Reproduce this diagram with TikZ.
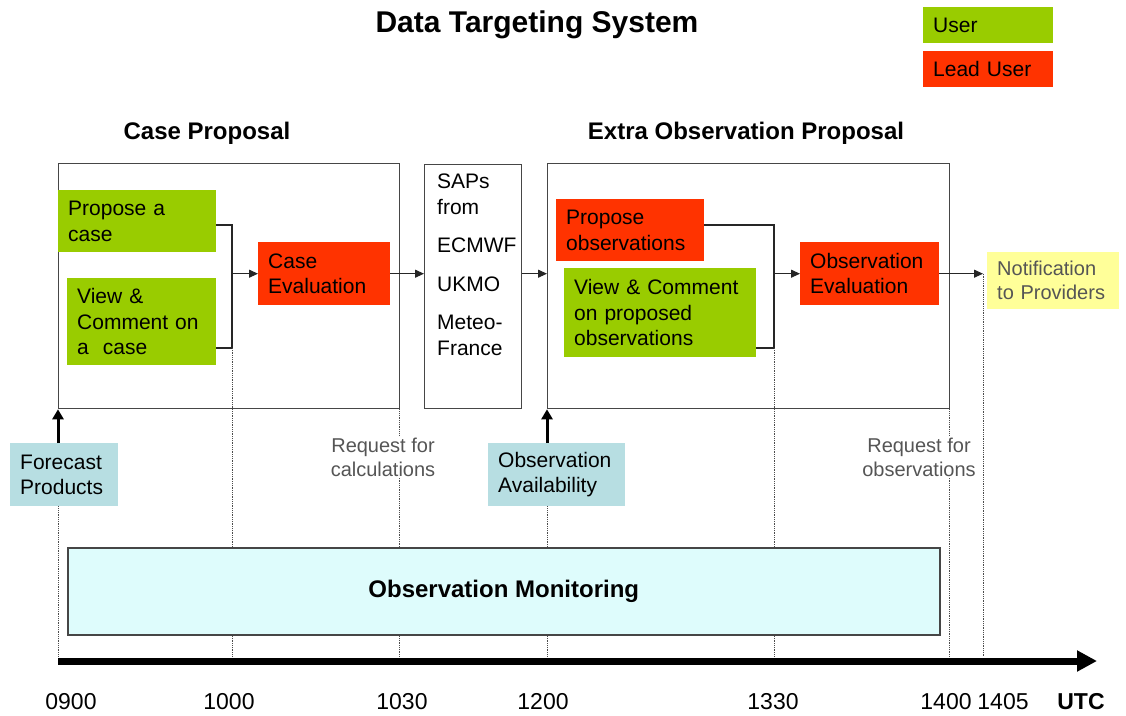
\documentclass[tikz,border=0pt]{standalone}
\usepackage{fontspec}
\setmainfont{Liberation Sans}
\usepackage{xcolor}
\definecolor{dtgreen}{RGB}{153,204,0}
\definecolor{dtred}{RGB}{255,51,0}
\definecolor{dtcyan}{RGB}{183,222,226}
\definecolor{dtyellow}{RGB}{255,255,153}
\definecolor{dtmonitor}{RGB}{222,252,252}
\definecolor{dtframe}{RGB}{70,70,70}
\definecolor{dtgray}{RGB}{85,85,85}
\usetikzlibrary{arrows.meta, positioning, calc}

\begin{document}
\begin{tikzpicture}[x=1pt, y=-1pt,
  boxtxt/.style={font=\fontsize{21}{25.5}\selectfont},
  cbox/.style n args={3}{anchor=north west, fill=#1, minimum width=#2pt, minimum height=#3pt,
      text width=#2pt-20pt, inner xsep=10pt, inner ysep=0pt, align=left, boxtxt},
  stagebox/.style n args={2}{draw=dtframe, line width=1.3pt, anchor=north west,
      minimum width=#1pt, minimum height=#2pt, inner sep=0pt},
  heading/.style={font=\fontsize{24}{28}\selectfont\bfseries},
  link/.style={draw=black!85, line width=1.1pt},
  flow/.style={link, -{Triangle[length=9pt, width=8pt]}},
  feed/.style={line width=3pt, -{Triangle[length=10pt, width=11pt]}},
  guide/.style={black!70, line width=0.8pt, densely dotted},
  note/.style={fill=white, inner sep=2pt, align=center, text=dtgray,
      font=\fontsize{20}{24}\selectfont},
  ticklab/.style={font=\fontsize{23}{27}\selectfont}]

\useasboundingbox (0,0) rectangle (1126,715);

% === Title and legend ===
\node[font=\fontsize{30}{36}\selectfont\bfseries] (title) at (537,25) {Data Targeting System};
\node[cbox={dtgreen}{130}{36}] (user) at (923,7) {User};
\node[cbox={dtred}{130}{36}] (lead) at (923,51) {Lead User};

% === Case Proposal ===
\node[heading] (casehead) at (207,133) {Case Proposal};
\node[stagebox={341}{245}] (caseprop) at (58,163) {};
\node[cbox={dtgreen}{158}{62}] (propcase) at (58,190) {Propose a\\case};
\node[cbox={dtgreen}{149}{87}] (viewcase) at (67,278) {View \&\\Comment on\\a\ \ case};
\node[cbox={dtred}{132}{63}] (caseeval) at (258,242) {Case\\Evaluation};
\coordinate (cbusT) at (232,225);
\coordinate (cbusB) at (232,348);
\draw[link] (propcase.east |- cbusT) -- (cbusT) -- (cbusB) -- (viewcase.east |- cbusB);
\draw[flow] (cbusT |- caseeval.west) -- (caseeval.west);

% === SAPs ===
\node[stagebox={97}{244}] (sap) at (424,164) {};
\node[anchor=north west, align=left, inner sep=0pt, boxtxt] (saptxt)
     at ([xshift=13pt, yshift=-10pt]sap.north west)
     {SAPs\\from\\[13pt]ECMWF\\[13pt]UKMO\\[13pt]Meteo-\\France};

% === Extra Observation Proposal ===
\node[heading] (extrahead) at (746,133) {Extra Observation Proposal};
\node[stagebox={402}{245}] (extraprop) at (547,163) {};
\node[cbox={dtred}{148}{62}] (propobs) at (556,199) {Propose\\observations};
\node[cbox={dtgreen}{192}{89}] (viewobs) at (564,268) {View \& Comment\\on proposed\\observations};
\node[cbox={dtred}{139}{63}] (obseval) at (800,242) {Observation\\Evaluation};
\coordinate (obusT) at (774,225);
\coordinate (obusB) at (774,348);
\draw[link] (propobs.east |- obusT) -- (obusT) -- (obusB) -- (viewobs.east |- obusB);
\draw[flow] (obusT |- obseval.west) -- (obseval.west);

% Arrows between stages
\draw[flow] (caseeval.east) -- (caseeval.east -| sap.west);
\draw[flow] (sap.east |- caseeval.east) -- (caseeval.east -| extraprop.west);

% === Notification ===
\node[cbox={dtyellow}{132}{57}, text=dtgray, font=\fontsize{20}{24}\selectfont] (notif)
     at (987,252) {Notification\\to Providers};

% === Time axis ===
\foreach \t/\x in {0900/58, 1000/232, 1030/399, 1200/547, 1330/774, 1400/949, 1405/983}
    \coordinate (t\t) at (\x,657);
\coordinate (notiftip) at (t1405 |- obseval.east);
\draw[flow] (obseval.east) -- (notiftip);

% Inputs
\node[cbox={dtcyan}{108}{63}] (forecast) at (10,443) {Forecast\\Products};
\node[cbox={dtcyan}{137}{63}] (obsavail) at (488,443) {Observation\\Availability};
\draw[feed] (t0900 |- forecast.north) -- (t0900 |- caseprop.south);
\draw[feed] (t1200 |- obsavail.north) -- (t1200 |- extraprop.south);

% Dotted time guides
\draw[guide] (t0900 |- forecast.south) -- (t0900);
\draw[guide] (cbusB) -- (t1000);
\draw[guide] (t1030 |- caseprop.south) -- (t1030);
\draw[guide] (t1200 |- obsavail.south) -- (t1200);
\draw[guide] (obusB) -- (t1330);
\draw[guide] (t1400 |- extraprop.south) -- (t1400);
\draw[guide] (notiftip) -- (t1405);

\node[note] (reqcalc) at (383,457) {Request for\\calculations};
\node[note] (reqobs) at (919,457) {Request for\\observations};

% === Observation Monitoring ===
\node[draw=dtframe, line width=1.5pt, fill=dtmonitor, anchor=north west, minimum width=872pt,
      minimum height=87pt, font=\fontsize{24}{28}\selectfont\bfseries] (monitor)
     at (67,547) {Observation Monitoring};

% Axis arrow and labels
\coordinate (axL) at (58,661);
\coordinate (axR) at (1097,661);
\draw[line width=7pt, -{Triangle[length=20pt, width=20pt]}] (axL) -- (axR);
\foreach \lab/\lx in {0900/71, 1000/229, 1030/402, 1200/543, 1330/773, 1400/946, 1405/1003}
    \node[ticklab] (lab\lab) at (\lx,702) {\lab};
\node[ticklab, font=\fontsize{23}{27}\selectfont\bfseries] (utc) at (1081,702) {UTC};

\end{tikzpicture}
\end{document}
